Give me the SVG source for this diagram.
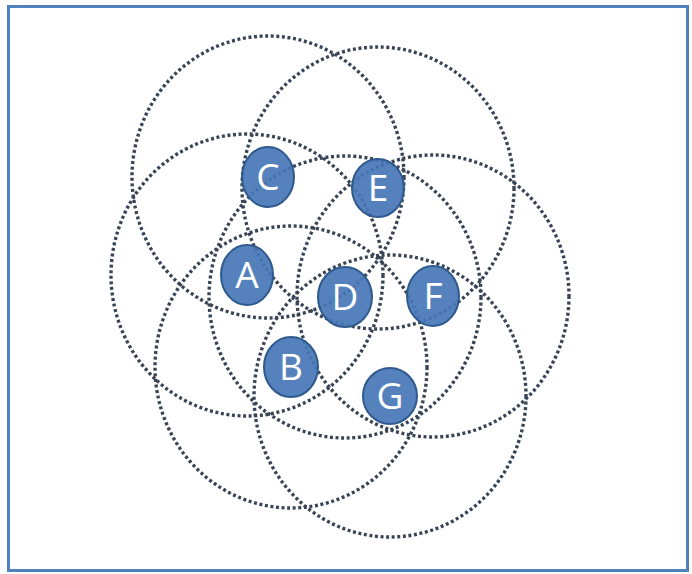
<svg xmlns="http://www.w3.org/2000/svg" width="692" height="574" viewBox="0 0 692 574">
<style>
.ring{fill:none;stroke:#394556;stroke-width:3.4;stroke-dasharray:3 2.6}
.node{fill:#4777b6;fill-opacity:0.92;stroke:#2f5a8e;stroke-width:2}
.lbl{fill:#ffffff;font-family:"Open Sans","Liberation Sans",sans-serif;font-size:37px;text-anchor:middle}
</style>
<rect x="0" y="0" width="692" height="574" fill="#ffffff"/>
<rect x="8.5" y="6.5" width="679" height="564" fill="none" stroke="#4f81bd" stroke-width="3"/>
<g id="connectors">
<ellipse class="ring" cx="268" cy="177" rx="136" ry="141"/>
<ellipse class="ring" cx="378" cy="188" rx="136" ry="141"/>
<ellipse class="ring" cx="247" cy="275" rx="136" ry="141"/>
<ellipse class="ring" cx="345" cy="297" rx="136" ry="141"/>
<ellipse class="ring" cx="433" cy="296" rx="136" ry="141"/>
<ellipse class="ring" cx="291" cy="367" rx="136" ry="141"/>
<ellipse class="ring" cx="390" cy="396" rx="136" ry="141"/>
</g>
<g id="node-C"><ellipse class="node" cx="268" cy="177" rx="26" ry="30"/><text class="lbl" x="268" y="190">C</text></g>
<g id="node-E"><ellipse class="node" cx="378" cy="188" rx="26" ry="29"/><text class="lbl" x="378" y="201">E</text></g>
<g id="node-A"><ellipse class="node" cx="247" cy="275" rx="26" ry="30"/><text class="lbl" x="247" y="288">A</text></g>
<g id="node-D"><ellipse class="node" cx="345" cy="297" rx="27" ry="30"/><text class="lbl" x="345" y="310">D</text></g>
<g id="node-F"><ellipse class="node" cx="433" cy="296" rx="26" ry="30"/><text class="lbl" x="433" y="309">F</text></g>
<g id="node-B"><ellipse class="node" cx="291" cy="367" rx="27" ry="30"/><text class="lbl" x="291" y="380">B</text></g>
<g id="node-G"><ellipse class="node" cx="390" cy="396" rx="27" ry="28"/><text class="lbl" x="390" y="409">G</text></g>
</svg>
